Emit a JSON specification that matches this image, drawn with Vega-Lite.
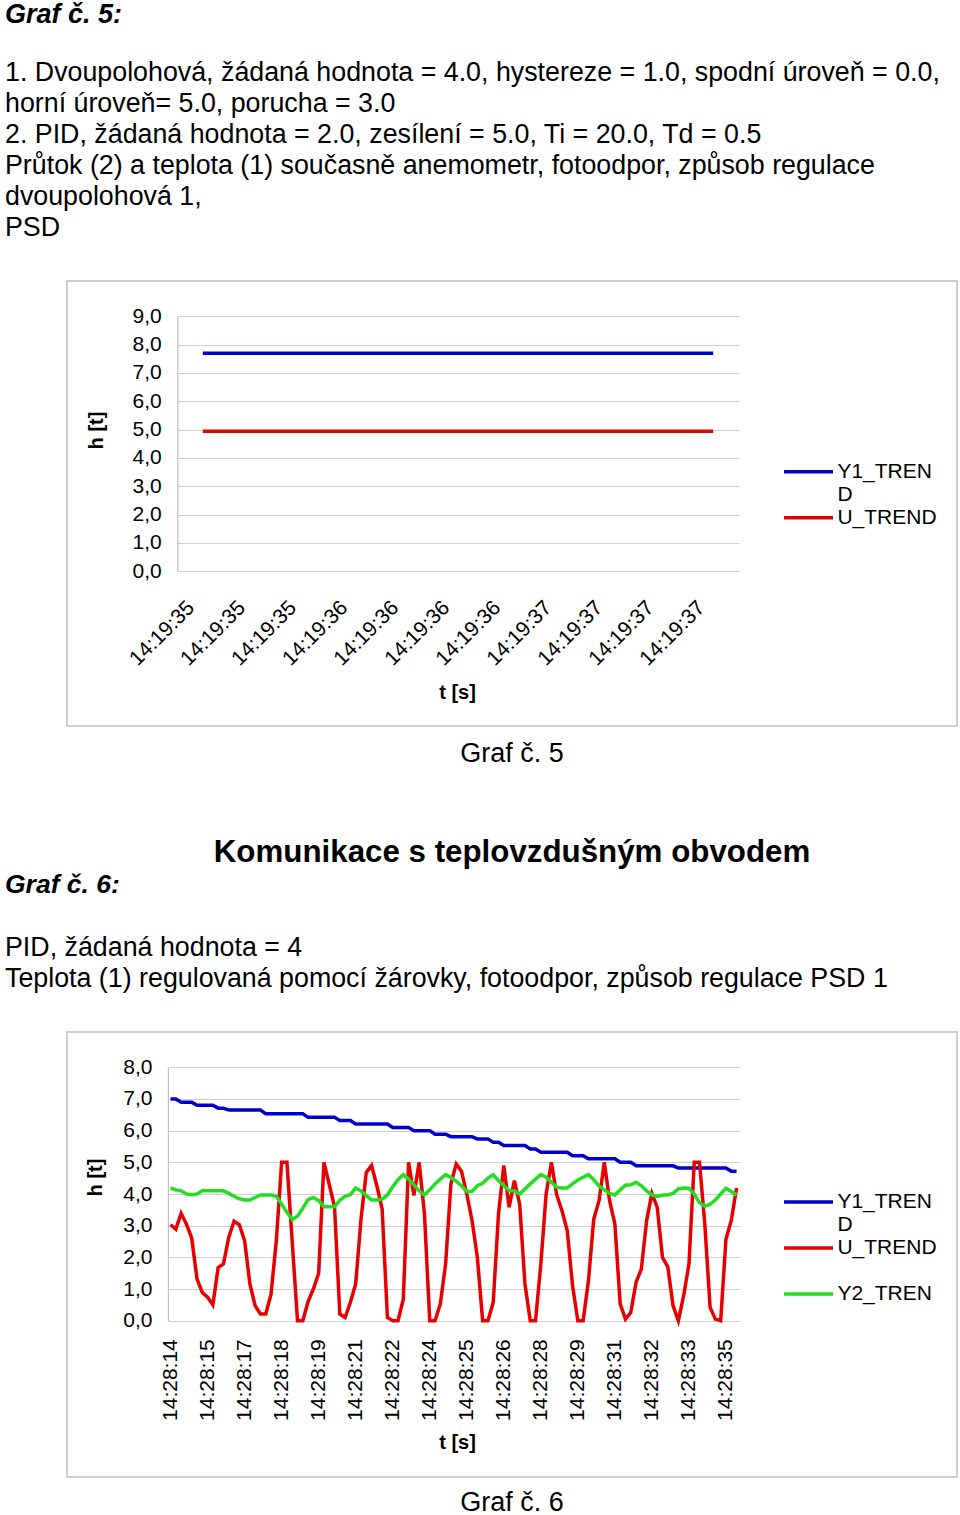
{
  "$schema": "https://vega.github.io/schema/vega-lite/v6.json",
  "background": "white",
  "padding": {"left": 4, "top": 0, "right": 0, "bottom": 0},
  "spacing": 70,
  "config": {
    "font": "Liberation Sans",
    "view": {"stroke": "#bfbfbf", "strokeWidth": 1.5},
    "title": {"font": "Liberation Sans", "color": "black", "subtitleFont": "Liberation Sans", "subtitleColor": "black"},
    "axis": {"labelFont": "Liberation Sans", "titleFont": "Liberation Sans", "labelColor": "black", "titleColor": "black", "labelFontSize": 21, "titleFontSize": 20, "titleFontWeight": "bold", "ticks": false, "gridColor": "#d0d0d0", "gridWidth": 1.2, "domainColor": "#bfbfbf", "domainWidth": 1.2, "labelOverlap": false, "labelFlush": false},
    "legend": {"labelFont": "Liberation Sans", "labelColor": "black", "labelFontSize": 21, "padding": 0, "labelLimit": 400}
  },
  "resolve": {"scale": {"color": "independent"}, "legend": {"color": "independent"}},
  "vconcat": [
    {
      "title": {"text": "Graf č. 5", "orient": "bottom", "anchor": "middle", "dx": 31, "fontSize": 27, "fontWeight": "normal", "offset": 14},
      "resolve": {"scale": {"color": "independent"}, "legend": {"color": "independent"}},
      "vconcat": [
        {
          "width": 890,
          "height": 445,
          "title": {
            "text": "Graf č. 5:",
            "subtitle": ["1. Dvoupolohová, žádaná hodnota = 4.0, hystereze = 1.0, spodní úroveň = 0.0,", "horní úroveň= 5.0, porucha = 3.0", "2. PID, žádaná hodnota = 2.0, zesílení = 5.0, Ti = 20.0, Td = 0.5", "Průtok (2) a teplota (1) současně anemometr, fotoodpor, způsob regulace", "dvoupolohová 1,", "PSD"],
            "anchor": "start", "frame": "group", "dx": -62,
            "fontSize": 27, "fontWeight": "bold", "fontStyle": "italic",
            "subtitleFontSize": 26.8, "subtitleLineHeight": 31, "subtitlePadding": 31, "offset": 38
          },
          "data": {"values": [
            {"i": 0, "Y1_TREND": 7.7, "U_TREND": 4.94},
            {"i": 1, "Y1_TREND": 7.7, "U_TREND": 4.94},
            {"i": 2, "Y1_TREND": 7.7, "U_TREND": 4.94},
            {"i": 3, "Y1_TREND": 7.7, "U_TREND": 4.94},
            {"i": 4, "Y1_TREND": 7.7, "U_TREND": 4.94},
            {"i": 5, "Y1_TREND": 7.7, "U_TREND": 4.94},
            {"i": 6, "Y1_TREND": 7.7, "U_TREND": 4.94},
            {"i": 7, "Y1_TREND": 7.7, "U_TREND": 4.94},
            {"i": 8, "Y1_TREND": 7.7, "U_TREND": 4.94},
            {"i": 9, "Y1_TREND": 7.7, "U_TREND": 4.94},
            {"i": 10, "Y1_TREND": 7.7, "U_TREND": 4.94}
          ]},
          "transform": [{"fold": ["Y1_TREND", "U_TREND"], "as": ["series", "h"]}],
          "mark": {"type": "line", "strokeWidth": 3.5},
          "encoding": {
            "x": {
              "field": "i", "type": "quantitative",
              "scale": {"domain": [-0.5, 10.5], "range": [110.3, 671.7], "nice": false, "zero": false},
              "axis": {
                "values": [0, 1, 2, 3, 4, 5, 6, 7, 8, 9, 10],
                "labelExpr": "['14:19:35','14:19:35','14:19:35','14:19:36','14:19:36','14:19:36','14:19:36','14:19:37','14:19:37','14:19:37','14:19:37'][datum.value]",
                "labelAngle": -45, "labelAlign": "right", "labelBaseline": "middle", "labelPadding": 33,
                "position": -12,
                "offset": -154.7, "domain": false, "grid": false,
                "title": "t [s]", "titleX": 402, "titleY": 121, "titleAlign": "center", "titleBaseline": "middle"
              }
            },
            "y": {
              "field": "h", "type": "quantitative",
              "scale": {"domain": [0, 9], "range": [290.3, 35.3], "nice": false, "zero": false},
              "axis": {
                "values": [0, 1, 2, 3, 4, 5, 6, 7, 8, 9],
                "labelExpr": "replace(format(datum.value, '.1f'), '.', ',')",
                "offset": -110.3, "labelPadding": 16, "grid": true, "domain": true,
                "title": "h [t]", "titleX": -81, "titleY": 149, "titleAngle": -90, "titleAlign": "center", "titleBaseline": "middle"
              }
            },
            "color": {
              "field": "series", "type": "nominal",
              "scale": {"domain": ["Y1_TREND", "U_TREND"], "range": ["#0000cc", "#e60000"]},
              "legend": {
                "orient": "none", "legendX": 749.4, "legendY": 180.2, "title": null,
                "symbolType": "M-7,0H1", "symbolSize": 150, "symbolStrokeWidth": 3.5, "rowPadding": 1, "labelOffset": 0,
                "labelExpr": "datum.label == 'Y1_TREND' ? ['Y1_TREN', 'D'] : [datum.label, '']"
              }
            }
          }
        }
      ]
    },
    {
      "title": {"text": "Graf č. 6", "orient": "bottom", "anchor": "middle", "dx": 31, "fontSize": 27, "fontWeight": "normal", "offset": 12},
      "resolve": {"scale": {"color": "independent"}, "legend": {"color": "independent"}},
      "vconcat": [
        {
          "title": {"text": "Komunikace s teplovzdušným obvodem", "anchor": "middle", "dx": 31, "fontSize": 31.3, "fontWeight": "bold", "offset": 3},
          "resolve": {"scale": {"color": "independent"}, "legend": {"color": "independent"}},
          "vconcat": [
            {
              "width": 890,
              "height": 445,
              "title": {
                "text": "Graf č. 6:",
                "subtitle": ["PID, žádaná hodnota = 4", "Teplota (1) regulovaná pomocí žárovky, fotoodpor, způsob regulace PSD 1"],
                "anchor": "start", "frame": "group", "dx": -62,
                "fontSize": 26.5, "fontWeight": "bold", "fontStyle": "italic",
                "subtitleFontSize": 26.8, "subtitleLineHeight": 31, "subtitlePadding": 36, "offset": 39.5
              },
              "data": {"values": [
                {"i": 0, "Y1_TREND": 7.0, "U_TREND": 3.03, "Y2_TREND": 4.19},
                {"i": 1, "Y1_TREND": 7.0, "U_TREND": 2.89, "Y2_TREND": 4.13},
                {"i": 2, "Y1_TREND": 6.9, "U_TREND": 3.39, "Y2_TREND": 4.1},
                {"i": 3, "Y1_TREND": 6.9, "U_TREND": 3.05, "Y2_TREND": 4.0},
                {"i": 4, "Y1_TREND": 6.9, "U_TREND": 2.61, "Y2_TREND": 3.98},
                {"i": 5, "Y1_TREND": 6.8, "U_TREND": 1.32, "Y2_TREND": 4.0},
                {"i": 6, "Y1_TREND": 6.8, "U_TREND": 0.89, "Y2_TREND": 4.1},
                {"i": 7, "Y1_TREND": 6.8, "U_TREND": 0.74, "Y2_TREND": 4.1},
                {"i": 8, "Y1_TREND": 6.8, "U_TREND": 0.5, "Y2_TREND": 4.1},
                {"i": 9, "Y1_TREND": 6.71, "U_TREND": 1.68, "Y2_TREND": 4.1},
                {"i": 10, "Y1_TREND": 6.71, "U_TREND": 1.79, "Y2_TREND": 4.1},
                {"i": 11, "Y1_TREND": 6.65, "U_TREND": 2.63, "Y2_TREND": 4.02},
                {"i": 12, "Y1_TREND": 6.65, "U_TREND": 3.14, "Y2_TREND": 3.93},
                {"i": 13, "Y1_TREND": 6.65, "U_TREND": 3.03, "Y2_TREND": 3.85},
                {"i": 14, "Y1_TREND": 6.65, "U_TREND": 2.53, "Y2_TREND": 3.81},
                {"i": 15, "Y1_TREND": 6.65, "U_TREND": 1.16, "Y2_TREND": 3.81},
                {"i": 16, "Y1_TREND": 6.65, "U_TREND": 0.47, "Y2_TREND": 3.89},
                {"i": 17, "Y1_TREND": 6.65, "U_TREND": 0.21, "Y2_TREND": 3.97},
                {"i": 18, "Y1_TREND": 6.53, "U_TREND": 0.21, "Y2_TREND": 3.97},
                {"i": 19, "Y1_TREND": 6.53, "U_TREND": 0.84, "Y2_TREND": 3.97},
                {"i": 20, "Y1_TREND": 6.53, "U_TREND": 2.53, "Y2_TREND": 3.93},
                {"i": 21, "Y1_TREND": 6.53, "U_TREND": 5.0, "Y2_TREND": 3.68},
                {"i": 22, "Y1_TREND": 6.53, "U_TREND": 5.0, "Y2_TREND": 3.42},
                {"i": 23, "Y1_TREND": 6.53, "U_TREND": 2.5, "Y2_TREND": 3.2},
                {"i": 24, "Y1_TREND": 6.53, "U_TREND": 0.0, "Y2_TREND": 3.3},
                {"i": 25, "Y1_TREND": 6.53, "U_TREND": 0.0, "Y2_TREND": 3.55},
                {"i": 26, "Y1_TREND": 6.42, "U_TREND": 0.6, "Y2_TREND": 3.82},
                {"i": 27, "Y1_TREND": 6.42, "U_TREND": 1.0, "Y2_TREND": 3.89},
                {"i": 28, "Y1_TREND": 6.42, "U_TREND": 1.5, "Y2_TREND": 3.79},
                {"i": 29, "Y1_TREND": 6.42, "U_TREND": 5.0, "Y2_TREND": 3.6},
                {"i": 30, "Y1_TREND": 6.42, "U_TREND": 4.3, "Y2_TREND": 3.6},
                {"i": 31, "Y1_TREND": 6.42, "U_TREND": 3.6, "Y2_TREND": 3.6},
                {"i": 32, "Y1_TREND": 6.32, "U_TREND": 0.21, "Y2_TREND": 3.8},
                {"i": 33, "Y1_TREND": 6.32, "U_TREND": 0.1, "Y2_TREND": 3.93},
                {"i": 34, "Y1_TREND": 6.32, "U_TREND": 0.58, "Y2_TREND": 3.98},
                {"i": 35, "Y1_TREND": 6.21, "U_TREND": 1.16, "Y2_TREND": 4.19},
                {"i": 36, "Y1_TREND": 6.21, "U_TREND": 3.2, "Y2_TREND": 4.1},
                {"i": 37, "Y1_TREND": 6.21, "U_TREND": 4.68, "Y2_TREND": 3.95},
                {"i": 38, "Y1_TREND": 6.21, "U_TREND": 4.9, "Y2_TREND": 3.81},
                {"i": 39, "Y1_TREND": 6.21, "U_TREND": 4.26, "Y2_TREND": 3.81},
                {"i": 40, "Y1_TREND": 6.21, "U_TREND": 3.53, "Y2_TREND": 3.84},
                {"i": 41, "Y1_TREND": 6.21, "U_TREND": 0.1, "Y2_TREND": 3.97},
                {"i": 42, "Y1_TREND": 6.1, "U_TREND": 0.0, "Y2_TREND": 4.23},
                {"i": 43, "Y1_TREND": 6.1, "U_TREND": 0.0, "Y2_TREND": 4.45},
                {"i": 44, "Y1_TREND": 6.1, "U_TREND": 0.68, "Y2_TREND": 4.61},
                {"i": 45, "Y1_TREND": 6.1, "U_TREND": 5.0, "Y2_TREND": 4.47},
                {"i": 46, "Y1_TREND": 6.0, "U_TREND": 3.95, "Y2_TREND": 4.29},
                {"i": 47, "Y1_TREND": 6.0, "U_TREND": 5.0, "Y2_TREND": 4.1},
                {"i": 48, "Y1_TREND": 6.0, "U_TREND": 3.37, "Y2_TREND": 3.97},
                {"i": 49, "Y1_TREND": 6.0, "U_TREND": 0.0, "Y2_TREND": 4.13},
                {"i": 50, "Y1_TREND": 5.89, "U_TREND": 0.0, "Y2_TREND": 4.32},
                {"i": 51, "Y1_TREND": 5.89, "U_TREND": 0.53, "Y2_TREND": 4.47},
                {"i": 52, "Y1_TREND": 5.89, "U_TREND": 1.79, "Y2_TREND": 4.61},
                {"i": 53, "Y1_TREND": 5.81, "U_TREND": 4.32, "Y2_TREND": 4.52},
                {"i": 54, "Y1_TREND": 5.81, "U_TREND": 4.95, "Y2_TREND": 4.4},
                {"i": 55, "Y1_TREND": 5.81, "U_TREND": 4.72, "Y2_TREND": 4.26},
                {"i": 56, "Y1_TREND": 5.81, "U_TREND": 4.0, "Y2_TREND": 4.08},
                {"i": 57, "Y1_TREND": 5.81, "U_TREND": 3.16, "Y2_TREND": 4.08},
                {"i": 58, "Y1_TREND": 5.74, "U_TREND": 2.0, "Y2_TREND": 4.26},
                {"i": 59, "Y1_TREND": 5.74, "U_TREND": 0.0, "Y2_TREND": 4.34},
                {"i": 60, "Y1_TREND": 5.74, "U_TREND": 0.0, "Y2_TREND": 4.5},
                {"i": 61, "Y1_TREND": 5.63, "U_TREND": 0.58, "Y2_TREND": 4.61},
                {"i": 62, "Y1_TREND": 5.63, "U_TREND": 3.37, "Y2_TREND": 4.42},
                {"i": 63, "Y1_TREND": 5.53, "U_TREND": 4.9, "Y2_TREND": 4.26},
                {"i": 64, "Y1_TREND": 5.53, "U_TREND": 3.58, "Y2_TREND": 4.1},
                {"i": 65, "Y1_TREND": 5.53, "U_TREND": 4.42, "Y2_TREND": 4.1},
                {"i": 66, "Y1_TREND": 5.53, "U_TREND": 3.68, "Y2_TREND": 4.0},
                {"i": 67, "Y1_TREND": 5.53, "U_TREND": 1.16, "Y2_TREND": 4.16},
                {"i": 68, "Y1_TREND": 5.42, "U_TREND": 0.0, "Y2_TREND": 4.32},
                {"i": 69, "Y1_TREND": 5.42, "U_TREND": 0.0, "Y2_TREND": 4.47},
                {"i": 70, "Y1_TREND": 5.32, "U_TREND": 1.79, "Y2_TREND": 4.61},
                {"i": 71, "Y1_TREND": 5.32, "U_TREND": 4.0, "Y2_TREND": 4.53},
                {"i": 72, "Y1_TREND": 5.32, "U_TREND": 5.0, "Y2_TREND": 4.37},
                {"i": 73, "Y1_TREND": 5.32, "U_TREND": 3.97, "Y2_TREND": 4.21},
                {"i": 74, "Y1_TREND": 5.32, "U_TREND": 3.47, "Y2_TREND": 4.19},
                {"i": 75, "Y1_TREND": 5.32, "U_TREND": 2.84, "Y2_TREND": 4.19},
                {"i": 76, "Y1_TREND": 5.21, "U_TREND": 1.1, "Y2_TREND": 4.32},
                {"i": 77, "Y1_TREND": 5.21, "U_TREND": 0.0, "Y2_TREND": 4.44},
                {"i": 78, "Y1_TREND": 5.21, "U_TREND": 0.0, "Y2_TREND": 4.53},
                {"i": 79, "Y1_TREND": 5.11, "U_TREND": 1.26, "Y2_TREND": 4.61},
                {"i": 80, "Y1_TREND": 5.11, "U_TREND": 3.2, "Y2_TREND": 4.45},
                {"i": 81, "Y1_TREND": 5.11, "U_TREND": 3.79, "Y2_TREND": 4.25},
                {"i": 82, "Y1_TREND": 5.11, "U_TREND": 5.0, "Y2_TREND": 4.13},
                {"i": 83, "Y1_TREND": 5.11, "U_TREND": 3.79, "Y2_TREND": 4.02},
                {"i": 84, "Y1_TREND": 5.11, "U_TREND": 3.05, "Y2_TREND": 3.97},
                {"i": 85, "Y1_TREND": 5.0, "U_TREND": 0.53, "Y2_TREND": 4.13},
                {"i": 86, "Y1_TREND": 5.0, "U_TREND": 0.05, "Y2_TREND": 4.28},
                {"i": 87, "Y1_TREND": 5.0, "U_TREND": 0.26, "Y2_TREND": 4.29},
                {"i": 88, "Y1_TREND": 4.89, "U_TREND": 1.21, "Y2_TREND": 4.37},
                {"i": 89, "Y1_TREND": 4.89, "U_TREND": 1.63, "Y2_TREND": 4.26},
                {"i": 90, "Y1_TREND": 4.89, "U_TREND": 3.16, "Y2_TREND": 4.1},
                {"i": 91, "Y1_TREND": 4.89, "U_TREND": 4.02, "Y2_TREND": 3.97},
                {"i": 92, "Y1_TREND": 4.89, "U_TREND": 3.58, "Y2_TREND": 3.92},
                {"i": 93, "Y1_TREND": 4.89, "U_TREND": 2.0, "Y2_TREND": 3.97},
                {"i": 94, "Y1_TREND": 4.89, "U_TREND": 1.7, "Y2_TREND": 3.97},
                {"i": 95, "Y1_TREND": 4.89, "U_TREND": 0.47, "Y2_TREND": 4.02},
                {"i": 96, "Y1_TREND": 4.82, "U_TREND": 0.0, "Y2_TREND": 4.16},
                {"i": 97, "Y1_TREND": 4.82, "U_TREND": 0.79, "Y2_TREND": 4.19},
                {"i": 98, "Y1_TREND": 4.82, "U_TREND": 1.79, "Y2_TREND": 4.18},
                {"i": 99, "Y1_TREND": 4.82, "U_TREND": 5.0, "Y2_TREND": 4.0},
                {"i": 100, "Y1_TREND": 4.82, "U_TREND": 5.0, "Y2_TREND": 3.73},
                {"i": 101, "Y1_TREND": 4.82, "U_TREND": 3.05, "Y2_TREND": 3.61},
                {"i": 102, "Y1_TREND": 4.82, "U_TREND": 0.42, "Y2_TREND": 3.68},
                {"i": 103, "Y1_TREND": 4.82, "U_TREND": 0.05, "Y2_TREND": 3.81},
                {"i": 104, "Y1_TREND": 4.82, "U_TREND": 0.0, "Y2_TREND": 4.0},
                {"i": 105, "Y1_TREND": 4.82, "U_TREND": 2.58, "Y2_TREND": 4.18},
                {"i": 106, "Y1_TREND": 4.72, "U_TREND": 3.16, "Y2_TREND": 4.08},
                {"i": 107, "Y1_TREND": 4.72, "U_TREND": 4.19, "Y2_TREND": 3.97}
              ]},
              "transform": [{"fold": ["Y1_TREND", "U_TREND", "Y2_TREND"], "as": ["series", "h"]}],
              "mark": {"type": "line", "strokeWidth": 3.5},
              "encoding": {
                "x": {
                  "field": "i", "type": "quantitative",
                  "scale": {"domain": [-0.5, 107.5], "range": [100.9, 672.2], "nice": false, "zero": false},
                  "axis": {
                    "values": [0, 7, 14, 21, 28, 35, 42, 49, 56, 63, 70, 77, 84, 91, 98, 105],
                    "labelExpr": "['14:28:14','14:28:15','14:28:17','14:28:18','14:28:19','14:28:21','14:28:22','14:28:24','14:28:25','14:28:26','14:28:28','14:28:29','14:28:31','14:28:32','14:28:33','14:28:35'][datum.value / 7]",
                    "labelAngle": -90, "labelAlign": "right", "labelBaseline": "middle", "labelPadding": 18,
                    "offset": -156.3, "domain": false, "grid": false,
                    "title": "t [s]", "titleX": 390, "titleY": 122, "titleAlign": "center", "titleBaseline": "middle"
                  }
                },
                "y": {
                  "field": "h", "type": "quantitative",
                  "scale": {"domain": [0, 8], "range": [288.7, 35.3], "nice": false, "zero": false},
                  "axis": {
                    "values": [0, 1, 2, 3, 4, 5, 6, 7, 8],
                    "labelExpr": "replace(format(datum.value, '.1f'), '.', ',')",
                    "offset": -100.9, "labelPadding": 16, "grid": true, "domain": true,
                    "title": "h [t]", "titleX": -72, "titleY": 145, "titleAngle": -90, "titleAlign": "center", "titleBaseline": "middle"
                  }
                },
                "color": {
                  "field": "series", "type": "nominal",
                  "scale": {"domain": ["Y1_TREND", "U_TREND", "Y2_TREND"], "range": ["#0000cc", "#e60000", "#22dd22"]},
                  "legend": {
                    "orient": "none", "legendX": 749.4, "legendY": 159.5, "title": null,
                    "symbolType": "M-7,0H1", "symbolSize": 150, "symbolStrokeWidth": 3.5, "rowPadding": 1, "labelOffset": 0,
                    "labelExpr": "datum.label == 'Y1_TREND' ? ['Y1_TREN', 'D'] : datum.label == 'Y2_TREND' ? ['Y2_TREN', ''] : [datum.label, '']"
                  }
                }
              }
            }
          ]
        }
      ]
    }
  ]
}
